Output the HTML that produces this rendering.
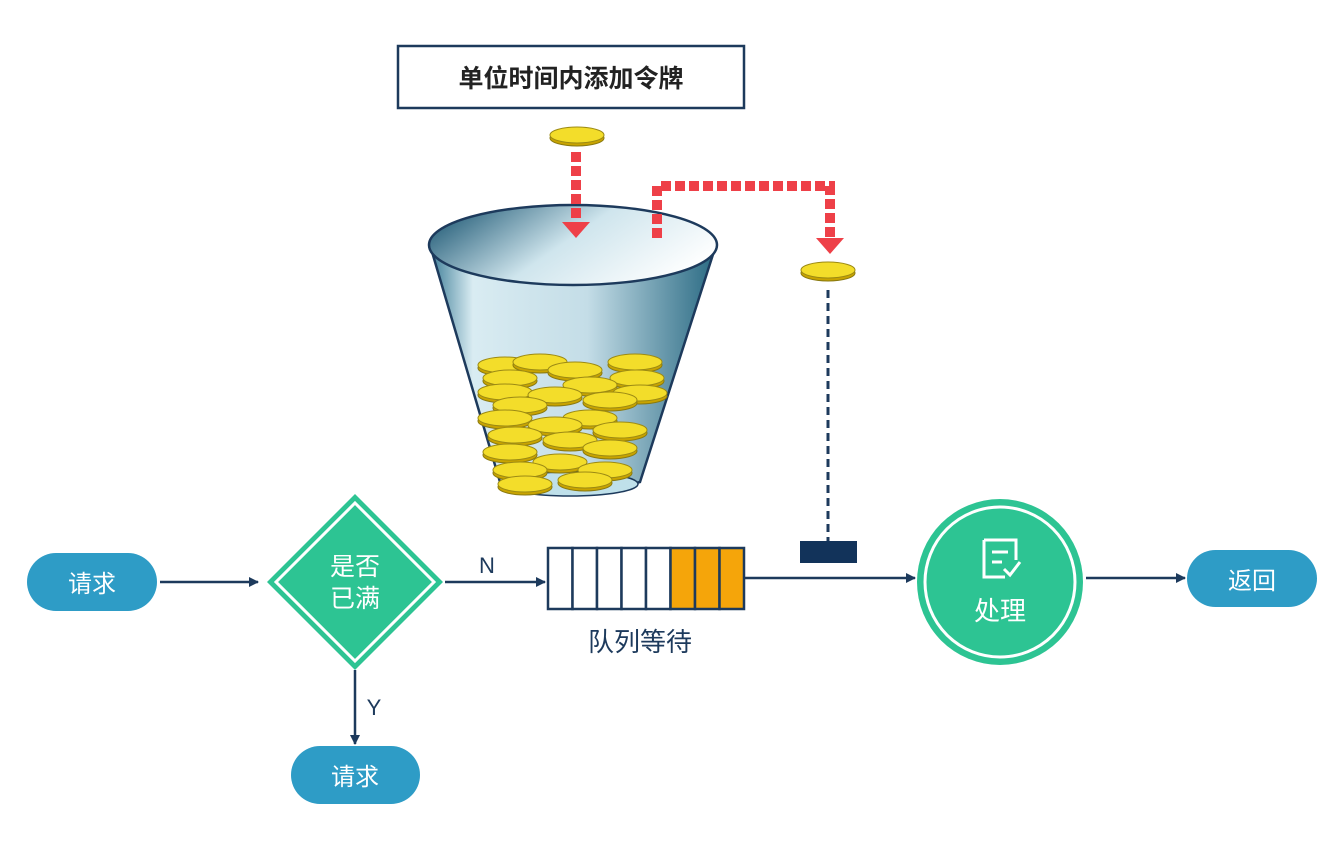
<!DOCTYPE html>
<html><head><meta charset="utf-8"><style>
html,body{margin:0;padding:0;background:#fff}
svg{display:block}
text{font-family:"Liberation Sans","Noto Sans CJK SC",sans-serif}
</style></head><body>
<svg width="1325" height="846" viewBox="0 0 1325 846" xmlns="http://www.w3.org/2000/svg">
<defs>
<linearGradient id="bk" x1="0" y1="0" x2="1" y2="0">
<stop offset="0" stop-color="#3d7d97"/><stop offset="0.15" stop-color="#d9ecf2"/><stop offset="0.55" stop-color="#c4dde7"/><stop offset="1" stop-color="#2a6a83"/>
</linearGradient>
<linearGradient id="top" x1="0" y1="0.2" x2="1" y2="0.6">
<stop offset="0" stop-color="#245d78"/><stop offset="0.5" stop-color="#cfe5ed"/><stop offset="1" stop-color="#ffffff"/>
</linearGradient>
<g id="coin"><ellipse cx="0" cy="3" rx="27" ry="8" fill="#c9a400" stroke="#8a7a10" stroke-width="1"/><ellipse cx="0" cy="0" rx="27" ry="8" fill="#f3dd2a" stroke="#9c8a14" stroke-width="1"/></g>
<marker id="ar" markerWidth="10" markerHeight="10" refX="9" refY="5" orient="auto" markerUnits="userSpaceOnUse"><path d="M0,0 L10,5 L0,10 z" fill="#1d3a5c"/></marker>
</defs>

<rect x="398" y="46" width="346" height="62" fill="#fff" stroke="#1d3a5c" stroke-width="2.5"/>
<text x="571" y="87" font-size="25" font-weight="bold" text-anchor="middle" fill="#222">单位时间内添加令牌</text>

<use href="#coin" x="577" y="135"/>

<!-- bucket -->
<path d="M430,245 L500,482 Q570,500 640,482 L716,245 Z" fill="url(#bk)" stroke="#1d3a5c" stroke-width="2.5"/>
<ellipse cx="573" cy="245" rx="144" ry="40" fill="url(#top)" stroke="#1d3a5c" stroke-width="2.5"/>
<ellipse cx="570" cy="484" rx="68" ry="12" fill="#bfe0ea" stroke="#1d3a5c" stroke-width="1.5"/>

<line x1="576" y1="152" x2="576" y2="225" stroke="#ee4048" stroke-width="10" stroke-dasharray="10,4"/>
<path d="M562,222 L590,222 L576,238 z" fill="#ee4048"/>

<g>
<use href="#coin" x="505" y="365"/><use href="#coin" x="635" y="362"/><use href="#coin" x="540" y="362"/>
<use href="#coin" x="575" y="370"/><use href="#coin" x="510" y="378"/><use href="#coin" x="637" y="378"/>
<use href="#coin" x="590" y="385"/><use href="#coin" x="505" y="392"/><use href="#coin" x="640" y="393"/>
<use href="#coin" x="555" y="395"/><use href="#coin" x="520" y="405"/><use href="#coin" x="610" y="400"/>
<use href="#coin" x="505" y="418"/><use href="#coin" x="590" y="418"/><use href="#coin" x="555" y="425"/>
<use href="#coin" x="515" y="435"/><use href="#coin" x="620" y="430"/><use href="#coin" x="570" y="440"/>
<use href="#coin" x="510" y="452"/><use href="#coin" x="610" y="448"/><use href="#coin" x="560" y="462"/>
<use href="#coin" x="520" y="470"/><use href="#coin" x="605" y="470"/><use href="#coin" x="585" y="480"/>
<use href="#coin" x="525" y="484"/>
</g>

<!-- second red path -->
<path d="M657,238 L657,186 L830,186 L830,240" fill="none" stroke="#ee4048" stroke-width="10" stroke-dasharray="10,4"/>
<path d="M816,238 L844,238 L830,254 z" fill="#ee4048"/>
<use href="#coin" x="828" y="270"/>
<line x1="828" y1="290" x2="828" y2="541" stroke="#1d3a5c" stroke-width="3" stroke-dasharray="8,5"/>
<rect x="800" y="541" width="57" height="22" fill="#12335a"/>

<!-- left pill -->
<rect x="27" y="553" width="130" height="58" rx="29" fill="#2e9cc6"/>
<text x="92" y="592" font-size="24" text-anchor="middle" fill="#fff">请求</text>
<line x1="160" y1="582" x2="258" y2="582" stroke="#1d3a5c" stroke-width="2.5" marker-end="url(#ar)"/>

<!-- diamond -->
<path d="M355,494 L443,582 L355,670 L267,582 Z" fill="#2dc493"/>
<path d="M355,503 L434,582 L355,661 L276,582 Z" fill="#2dc493" stroke="#fff" stroke-width="3"/>
<text x="355" y="575" font-size="25" text-anchor="middle" fill="#fff">是否</text>
<text x="355" y="607" font-size="25" text-anchor="middle" fill="#fff">已满</text>

<text x="487" y="573" font-size="22" text-anchor="middle" fill="#1d3a5c">N</text>
<line x1="445" y1="582" x2="545" y2="582" stroke="#1d3a5c" stroke-width="2.5" marker-end="url(#ar)"/>

<!-- queue -->
<g stroke="#1d3a5c" stroke-width="2.5">
<rect x="548" y="548" width="24.5" height="61" fill="#fff"/>
<rect x="572.5" y="548" width="24.5" height="61" fill="#fff"/>
<rect x="597" y="548" width="24.5" height="61" fill="#fff"/>
<rect x="621.5" y="548" width="24.5" height="61" fill="#fff"/>
<rect x="646" y="548" width="24.5" height="61" fill="#fff"/>
<rect x="670.5" y="548" width="24.5" height="61" fill="#f5a50a"/>
<rect x="695" y="548" width="24.5" height="61" fill="#f5a50a"/>
<rect x="719.5" y="548" width="24.5" height="61" fill="#f5a50a"/>
</g>
<text x="640" y="651" font-size="26" text-anchor="middle" fill="#1d3a5c">队列等待</text>
<line x1="744" y1="578" x2="915" y2="578" stroke="#1d3a5c" stroke-width="2.5" marker-end="url(#ar)"/>

<!-- circle -->
<circle cx="1000" cy="582" r="83" fill="#2dc493"/>
<circle cx="1000" cy="582" r="75" fill="#2dc493" stroke="#fff" stroke-width="3"/>
<path d="M984,540 L1016,540 L1016,560 M1005,577 L984,577 L984,540 M992,552 L1008,552 M992,562 L1002,562" fill="none" stroke="#fff" stroke-width="3"/>
<path d="M1004,569 L1010,575 L1020,562" fill="none" stroke="#fff" stroke-width="3"/>
<text x="1000" y="620" font-size="26" text-anchor="middle" fill="#fff">处理</text>

<line x1="1086" y1="578" x2="1185" y2="578" stroke="#1d3a5c" stroke-width="2.5" marker-end="url(#ar)"/>
<rect x="1187" y="550" width="130" height="57" rx="28.5" fill="#2e9cc6"/>
<text x="1252" y="589" font-size="24" text-anchor="middle" fill="#fff">返回</text>

<line x1="355" y1="670" x2="355" y2="744" stroke="#1d3a5c" stroke-width="2.5" marker-end="url(#ar)"/>
<text x="374" y="715" font-size="22" text-anchor="middle" fill="#1d3a5c">Y</text>
<rect x="291" y="746" width="129" height="58" rx="29" fill="#2e9cc6"/>
<text x="355" y="785" font-size="24" text-anchor="middle" fill="#fff">请求</text>
</svg>
</body></html>
